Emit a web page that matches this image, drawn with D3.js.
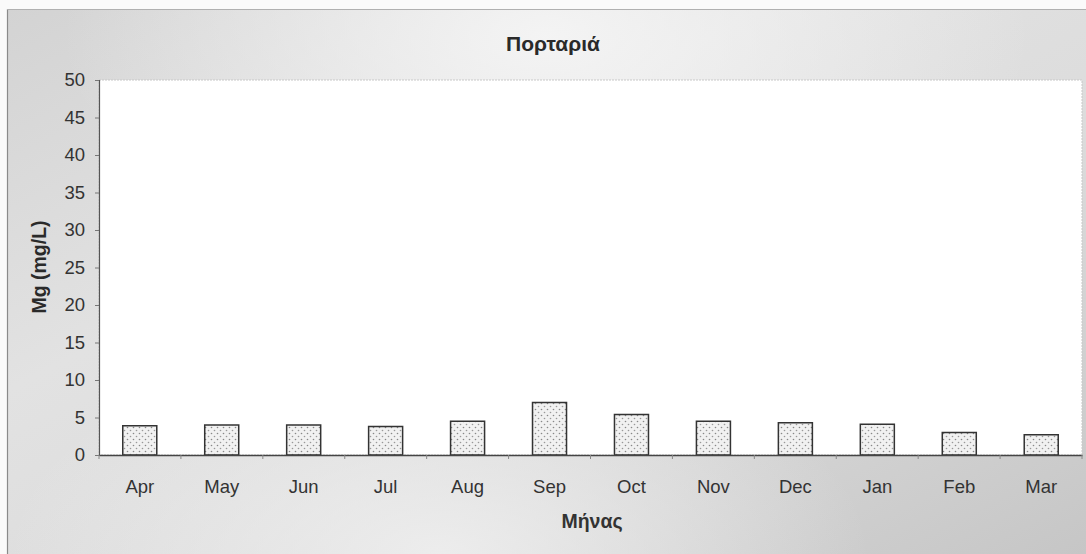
<!DOCTYPE html>
<html><head><meta charset="utf-8">
<script src="https://cdn.jsdelivr.net/npm/d3@7"></script>
<style>
html,body{margin:0;padding:0;background:#fff;}
svg{display:block;font-family:"Liberation Sans",Arial,sans-serif;}
</style></head>
<body><svg id="c" width="1086" height="554"></svg>
<script>
const months = ["Apr","May","Jun","Jul","Aug","Sep","Oct","Nov","Dec","Jan","Feb","Mar"];
const mgValues = [3.9,4.0,4.0,3.8,4.5,7.0,5.4,4.5,4.3,4.1,3.0,2.7];
const yTicks = [0,5,10,15,20,25,30,35,40,45,50];
const titleText = "Πορταριά";
const xTitle = "Μήνας";
const yTitle = "Mg (mg/L)";

const svg = d3.select("#c");
const defs = svg.append("defs");
const bg = defs.append("linearGradient").attr("id","bg").attr("x1","0").attr("y1","0").attr("x2","1").attr("y2","1");
bg.append("stop").attr("offset","0").attr("stop-color","#d3d3d3");
bg.append("stop").attr("offset","0.35").attr("stop-color","#e2e2e2");
bg.append("stop").attr("offset","0.6").attr("stop-color","#dcdcdc");
bg.append("stop").attr("offset","1").attr("stop-color","#c6c6c6");
const rg = defs.append("radialGradient").attr("id","hl").attr("cx","0.5").attr("cy","0.05").attr("r","0.45");
rg.append("stop").attr("offset","0").attr("stop-color","#f6f6f6").attr("stop-opacity",0.9);
rg.append("stop").attr("offset","1").attr("stop-color","#f6f6f6").attr("stop-opacity",0);
const rg2 = defs.append("radialGradient").attr("id","hl2").attr("cx","0.4").attr("cy","1").attr("r","0.4");
rg2.append("stop").attr("offset","0").attr("stop-color","#f2f2f2").attr("stop-opacity",0.8);
rg2.append("stop").attr("offset","1").attr("stop-color","#f2f2f2").attr("stop-opacity",0);

const pat = defs.append("pattern").attr("id","dots").attr("patternUnits","userSpaceOnUse").attr("width",6).attr("height",6);
pat.append("rect").attr("width",6).attr("height",6).attr("fill","#f1f1f1");
pat.append("circle").attr("cx",1.5).attr("cy",1.5).attr("r",0.8).attr("fill","#888");
pat.append("circle").attr("cx",4.5).attr("cy",4.5).attr("r",0.8).attr("fill","#999");

// chart background
svg.append("rect").attr("x",0).attr("y",0).attr("width",1086).attr("height",554).attr("fill","#fafafa");
svg.append("rect").attr("x",7).attr("y",9).attr("width",1079).attr("height",545).attr("fill","url(#bg)");
svg.append("rect").attr("x",7).attr("y",9).attr("width",1079).attr("height",545).attr("fill","url(#hl)");
svg.append("rect").attr("x",7).attr("y",9).attr("width",1079).attr("height",545).attr("fill","url(#hl2)");
svg.append("line").attr("x1",7.5).attr("x2",7.5).attr("y1",9).attr("y2",554).attr("stroke","#8a8a8a").attr("stroke-width",1.2);
svg.append("line").attr("x1",7).attr("x2",1086).attr("y1",9.5).attr("y2",9.5).attr("stroke","#b0b0b0").attr("stroke-width",1);

const m = {left:99, right:1082, top:80, bottom:455};
const x = d3.scaleBand().domain(months).range([m.left, m.right]).paddingInner(0.585).paddingOuter(0.29);
const y = d3.scaleLinear().domain([0,50]).range([m.bottom, m.top]);

// plot area
svg.append("rect").attr("x",m.left).attr("y",m.top).attr("width",m.right-m.left).attr("height",m.bottom-m.top)
  .attr("fill","#ffffff").attr("stroke","#c8c8c8").attr("stroke-dasharray","2,1");

// bars
svg.append("g").selectAll("rect").data(months).join("rect")
  .attr("x",d=>x(d)).attr("width",x.bandwidth())
  .attr("y",(d,i)=>y(mgValues[i])).attr("height",(d,i)=>y(0)-y(mgValues[i]))
  .attr("fill","url(#dots)").attr("stroke","#333").attr("stroke-width",1.5);

// y axis
const ya = d3.axisLeft(y).tickValues(yTicks).tickSize(4).tickPadding(10);
const gy = svg.append("g").attr("transform",`translate(${m.left},0)`).call(ya);
gy.select(".domain").attr("stroke","#555").attr("stroke-width",1.2);
gy.selectAll(".tick line").attr("stroke","#777");
gy.selectAll("text").attr("font-size",18.5).attr("fill","#333");

// x axis
const xa = d3.axisBottom(x).tickSize(0).tickPadding(25);
const gx = svg.append("g").attr("transform",`translate(0,${m.bottom})`).call(xa);
gx.select(".domain").attr("stroke","#444").attr("stroke-width",1.5);
gx.selectAll("text").attr("font-size",18.5).attr("fill","#333");
// category separator ticks
const bounds = d3.range(months.length+1).map(i=>m.left + i*(m.right-m.left)/months.length);
svg.append("g").selectAll("line").data(bounds).join("line")
  .attr("x1",d=>d).attr("x2",d=>d).attr("y1",m.bottom).attr("y2",m.bottom+4)
  .attr("stroke","#888").attr("stroke-width",1);

// titles
svg.append("text").attr("x",553).attr("y",51).attr("text-anchor","middle")
  .attr("font-size",21).attr("font-weight","bold").attr("fill","#2a2a2a").text(titleText);
svg.append("text").attr("x",592).attr("y",528).attr("text-anchor","middle")
  .attr("font-size",19.5).attr("font-weight","bold").attr("fill","#333").text(xTitle);
svg.append("text").attr("transform","translate(46,267) rotate(-90)").attr("text-anchor","middle")
  .attr("font-size",19.5).attr("font-weight","bold").attr("fill","#2a2a2a").text(yTitle);
</script></body></html>
